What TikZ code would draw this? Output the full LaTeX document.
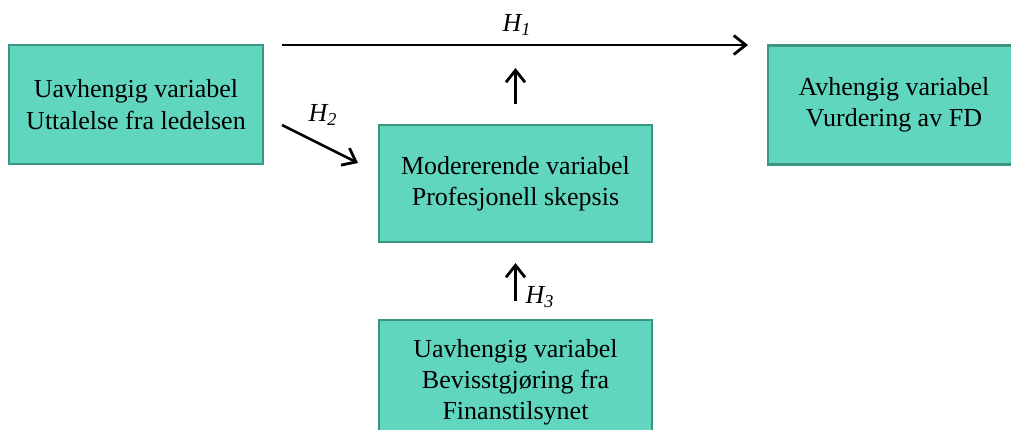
\documentclass[tikz,border=0pt]{standalone}
\usepackage{fontspec}
\setmainfont{Liberation Serif}
\usepackage{tikz}
\usetikzlibrary{
  calc,
  positioning,
  arrows.meta
}

\definecolor{boxfill}{RGB}{96,214,190}
\definecolor{boxline}{RGB}{58,150,128}

\tikzset{
  varbox/.style={draw=boxline,fill=boxfill,line width=1.2pt,
    minimum width=5.08cm,minimum height=2.38cm,align=center,
    font=\fontsize{14.8}{17.8}\selectfont},
  hyparrow/.style={-{Straight Barb[length=2.4mm,width=3.8mm,line width=1.6pt]},line width=1.5pt},
  hyplabel/.style={font=\fontsize{14.8}{17.8}\selectfont\itshape}
}

\begin{document}
\begin{tikzpicture}
  \useasboundingbox (0, 0) rectangle (20.22, -8.6);
  \clip (0, 0) rectangle (20.22, -8.6);

  \node[varbox] at (2.72, -2.09) (Uttalelse)
  {Uavhengig variabel\\Uttalelse fra ledelsen};
  \node[varbox,minimum width=5.46cm,minimum height=2.34cm] at (10.31, -3.67) (Skepsis)
  {Modererende variabel\\Profesjonell skepsis};
  \node[varbox,minimum width=5.04cm] at (17.88, -2.1) (Vurdering)
  {Avhengig variabel\\Vurdering av FD};
  \node[varbox,minimum width=5.46cm,minimum height=2.5cm] at (10.31, -7.65) (Finanstilsynet)
  {Uavhengig variabel\\Bevisstgjøring fra\\Finanstilsynet};

  \coordinate (H1 start) at (5.64, -0.9);
  \coordinate (H1 end) at (14.96, -0.9);
  \coordinate (H2 start) at (5.64, -2.5);
  \coordinate (H2 end) at (7.16, -3.26);
  \coordinate (Mod end) at (10.31, -1.36);
  \coordinate (H3 start) at (10.31, -6.02);

  \draw[hyparrow] (H1 start) -- (H1 end);
  \node[hyplabel] at (10.34, -0.5) (H1) {H\textsubscript{1}};

  \draw[hyparrow] ($(Skepsis.north) + (0, 0.4)$) -- (Mod end);

  \draw[hyparrow] (H2 start) -- (H2 end);
  \node[hyplabel] at (6.46, -2.3) (H2) {H\textsubscript{2}};

  \draw[hyparrow] (H3 start) -- ($(Skepsis.south) + (0, -0.4)$);
  \node[hyplabel] at (10.8, -5.94) (H3) {H\textsubscript{3}};
\end{tikzpicture}
\end{document}
